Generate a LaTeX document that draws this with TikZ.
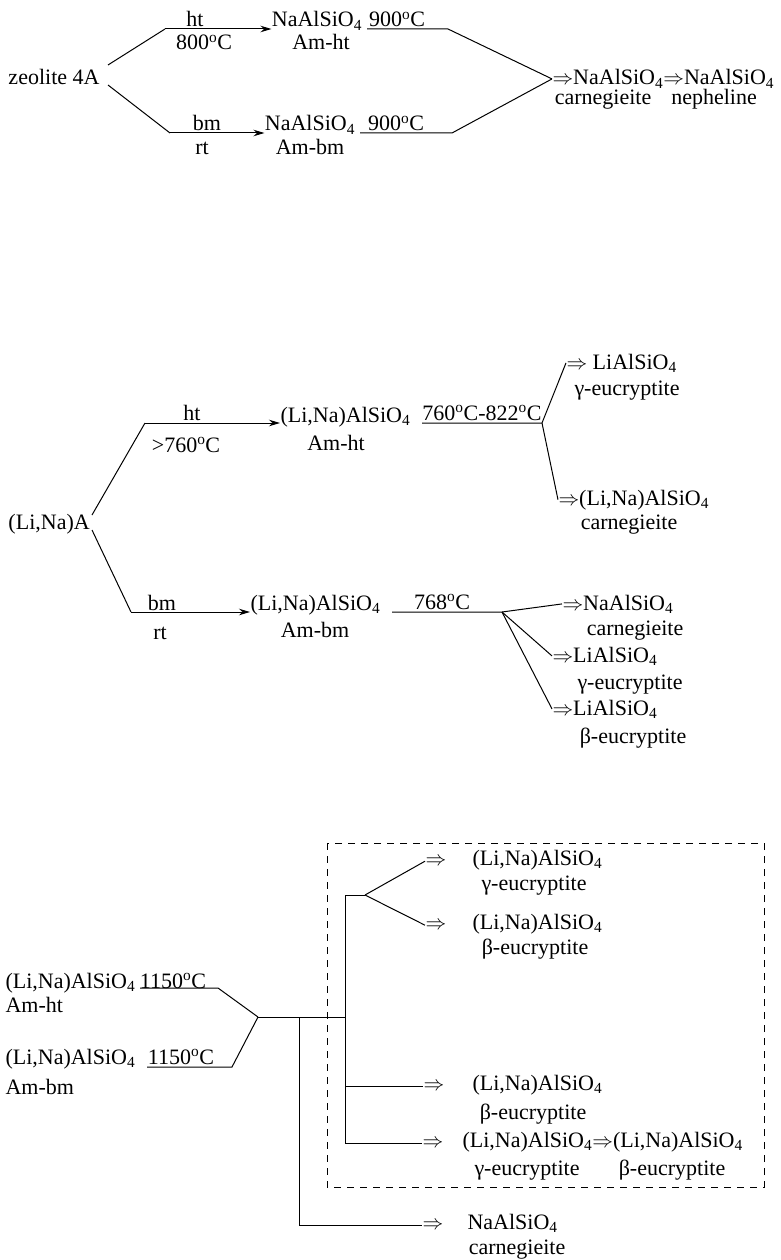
\documentclass[tikz,border=0pt]{standalone}
\usepackage{fontspec}
\setmainfont{Liberation Serif}
\usetikzlibrary{arrows.meta}
\newcommand{\nasi}{NaAlSiO\textsubscript{4}}
\newcommand{\lisi}{(Li,Na)AlSiO\textsubscript{4}}
\newcommand{\degc}{\textsuperscript{o}C}
\begin{document}
\begin{tikzpicture}[x=1pt,y=-1pt,font=\fontsize{22}{26}\selectfont,line width=1pt,
lbl/.style={anchor=base,inner sep=0pt},
lft/.style={anchor=base west,inner sep=0pt},
rx/.style={-{Stealth[length=11pt,width=6.5pt]}},
dashbox/.style={line width=0.9pt,dash pattern=on 7pt off 6pt}]
\useasboundingbox (0,0) rectangle (781,1260);
\node[lft] at (8,85) (z4A) {zeolite 4A};
\node[lbl] at (195,27) (ht1) {ht};
\node[lbl] at (204,50) (t800) {800\degc};
\node[lbl] at (317,27) (na1) {\nasi};
\node[lbl] at (321,50) (amht1) {Am-ht};
\node[lbl] at (397,27) (t900a) {900\degc};
\node[lbl] at (207,131) (bm1) {bm};
\node[lbl] at (202,155) (rt1) {rt};
\node[lbl] at (310,131) (na2) {\nasi};
\node[lbl] at (310,155) (ambm1) {Am-bm};
\node[lbl] at (396,131) (t900b) {900\degc};
\node[lft] at (552,85) (prod1) {$\Rightarrow$\nasi$\Rightarrow$\nasi};
\node[lbl] at (603,105) (carn1) {carnegieite};
\node[lbl] at (714,105) (neph) {nepheline};
\coordinate (a1) at (108,65);
\coordinate (a2) at (165,29);
\coordinate (b1) at (108,85);
\coordinate (b2) at (170,133);
\coordinate (u1) at (367,29);
\coordinate (k1) at (448,29);
\coordinate (u2) at (360,133);
\coordinate (k2) at (452,133);

\draw (a1) -- (a2);
\draw[rx] (a2) -- (a2 -| na1.west);
\draw (b1) -- (b2);
\draw[rx] (b2) -- (b2 -| na2.west);
\draw (u1) -- (k1) -- (prod1.west);
\draw (u2) -- (k2) -- (prod1.west);

\node[lft] at (8,529) (lna) {(Li,Na)A};
\node[lbl] at (192,420) (ht2) {ht};
\node[lbl] at (186,452) (t760) {>760\degc};
\node[lft] at (280,422) (lna1) {\lisi};
\node[lbl] at (336,450) (amht2) {Am-ht};
\node[lbl] at (482,420) (t822) {760\degc-822\degc};
\node[lft] at (566,369) (lial1) {$\Rightarrow$ LiAlSiO\textsubscript{4}};
\node[lbl] at (627,395) (gam1) {γ-eucryptite};
\node[lft] at (558,505) (lna3) {$\Rightarrow$\lisi};
\node[lbl] at (629,529) (carn2) {carnegieite};
\node[lbl] at (162,610) (bm2) {bm};
\node[lbl] at (160,639) (rt2) {rt};
\node[lft] at (250,610) (lna2) {\lisi};
\node[lbl] at (315,637) (ambm2) {Am-bm};
\node[lbl] at (442,609) (t768) {768\degc};
\node[lft] at (562,610) (na3) {$\Rightarrow$\nasi};
\node[lbl] at (635,635) (carn3) {carnegieite};
\node[lft] at (552,662) (lial2) {$\Rightarrow$LiAlSiO\textsubscript{4}};
\node[lbl] at (630,689) (gam2) {γ-eucryptite};
\node[lft] at (552,715) (lial3) {$\Rightarrow$LiAlSiO\textsubscript{4}};
\node[lbl] at (633,743) (beta1) {β-eucryptite};
\coordinate (c0) at (92,515);
\coordinate (c1) at (145,423);
\coordinate (d0) at (92,530);
\coordinate (d1) at (131,612);
\coordinate (u3) at (422,423);
\coordinate (k3) at (542,423);
\coordinate (u4) at (392,612);
\coordinate (k4) at (502,612);

\draw (c0) -- (c1);
\draw[rx] (c1) -- (c1 -| lna1.west);
\draw (d0) -- (d1);
\draw[rx] (d1) -- (d1 -| lna2.west);
\draw (u3) -- (k3) -- (lial1.west);
\draw (k3) -- (lna3.west);
\draw (u4) -- (k4) -- (na3.west);
\draw (k4) -- (lial2.west);
\draw (k4) -- (lial3.west);

\draw[dashbox] (327,843) rectangle (764,1187);
\node[lft] at (5,988) (s1) {\lisi};
\node[lbl] at (173,988) (t1150a) {1150\degc};
\node[lft] at (5,1012) (amht3) {Am-ht};
\node[lft] at (5,1064) (s2) {\lisi};
\node[lbl] at (181,1064) (t1150b) {1150\degc};
\node[lft] at (5,1094) (ambm3) {Am-bm};
\node[lft] at (425,865) (r1) {$\Rightarrow$};
\node[lft] at (472,865) (p1) {\lisi};
\node[lbl] at (534,890) (g3) {γ-eucryptite};
\node[lft] at (425,929) (r2) {$\Rightarrow$};
\node[lft] at (472,929) (p2) {\lisi};
\node[lbl] at (535,954) (b3) {β-eucryptite};
\node[lft] at (423,1090) (r3) {$\Rightarrow$};
\node[lft] at (472,1090) (p3) {\lisi};
\node[lbl] at (533,1119) (b4) {β-eucryptite};
\node[lft] at (422,1147) (r4) {$\Rightarrow$};
\node[lft] at (462,1147) (p4) {\lisi$\Rightarrow$\lisi};
\node[lbl] at (527,1175) (g4) {γ-eucryptite};
\node[lbl] at (672,1175) (b5) {β-eucryptite};
\node[lft] at (422,1229) (r5) {$\Rightarrow$};
\node[lft] at (467,1229) (p5) {\nasi};
\node[lbl] at (517,1254) (c5) {carnegieite};
\coordinate (u5) at (140,988);
\coordinate (k5) at (218,988);
\coordinate (u6) at (147,1067);
\coordinate (k6) at (232,1067);
\coordinate (j0) at (258,1017);
\coordinate (j1) at (299,1017);
\coordinate (v1) at (345,895);
\coordinate (v2) at (365,895);

\draw (u5) -- (k5) -- (j0);
\draw (u6) -- (k6) -- (j0);
\draw (j0) -- (j0 -| v1);
\draw (v2) -- (v1) |- (r4.west);
\draw (v2) -- (r1.west);
\draw (v2) -- (r2.west);
\draw (r3.west) -- (r3.west -| v1);
\draw (j1) |- (r5.west);
\end{tikzpicture}
\end{document}
